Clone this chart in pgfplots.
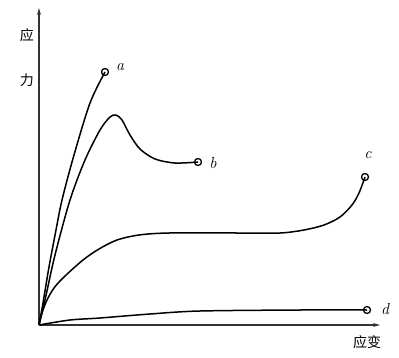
\documentclass[border=0pt]{standalone}
\usepackage{pgfplots}
\pgfplotsset{compat=1.18}
\usepackage{fontspec}
\newfontfamily\cjk{Noto Sans CJK SC}
\usetikzlibrary{arrows.meta}
\begin{document}
\begin{tikzpicture}
\begin{axis}[
  anchor=origin, at={(0pt,0pt)},
  scale only axis, width=341pt, height=317pt,
  xmin=0, xmax=341, ymin=0, ymax=317,
  axis lines=left,
  axis line style={line width=1.1pt, black!80, -{Stealth[length=7pt,width=4pt]}},
  xtick=\empty, ytick=\empty,
  clip=false,
  every axis plot/.append style={line width=1.5pt, black},
]
\addplot[smooth, tension=0.5] coordinates {(0,0) (4,22) (10,58) (17,95) (23,125) (35,170) (51,222) (66,253)};
\addplot[smooth, tension=0.5] coordinates {(0,0) (6,25) (16,70) (31,125) (46,165) (61,195) (71,208) (77,210) (83,205) (91,190) (101,176) (116,166) (136,162) (159,163)};
\addplot[smooth, tension=0.5] coordinates {(0,0) (3,12) (8,25) (15,37) (25,48) (44,65) (60,76) (78,85) (100,90) (130,92) (200,92) (241,92) (265,95) (285,100) (301,108) (313,120) (320,132) (326,148)};
\addplot[smooth, tension=0.5] coordinates {(0,0) (31,5) (61,7) (111,11) (161,14) (261,15) (328,15)};
\addplot[only marks, mark=o, mark size=3.5pt, mark options={line width=1.3pt, fill=white}] coordinates {(66,253) (159,163) (326,148) (328,15)};
\node[font=\fontsize{16}{18}\selectfont\itshape] at (axis cs:81,258) {a};
\node[font=\fontsize{16}{18}\selectfont\itshape] at (axis cs:174,162) {b};
\node[font=\fontsize{16}{18}\selectfont\itshape] at (axis cs:329,170) {c};
\node[font=\fontsize{16}{18}\selectfont\itshape] at (axis cs:346,16) {d};
\node[font=\cjk\fontsize{14}{16}\selectfont] at (axis cs:-12,290) {应};
\node[font=\cjk\fontsize{14}{16}\selectfont] at (axis cs:-12,245) {力};
\node[font=\cjk\fontsize{14}{16}\selectfont] at (axis cs:328,-17) {应变};
\end{axis}
\pgfresetboundingbox
\path (-39pt,-32pt) rectangle (360pt,325pt);
\end{tikzpicture}
\end{document}
